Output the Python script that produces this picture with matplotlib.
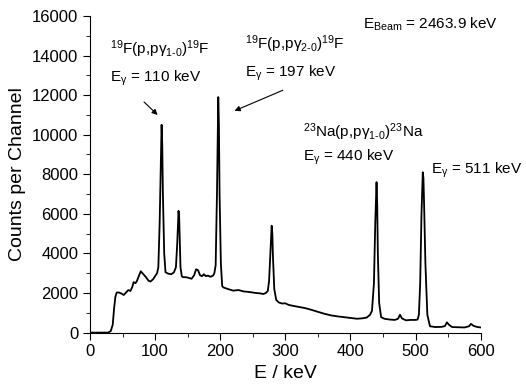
import matplotlib.pyplot as plt
from matplotlib.ticker import MultipleLocator

plt.rcParams['font.family'] = ['Liberation Sans', 'DejaVu Sans']
plt.rcParams['mathtext.fontset'] = 'custom'
plt.rcParams['mathtext.rm'] = 'Liberation Sans'
plt.rcParams['mathtext.it'] = 'Liberation Sans'
plt.rcParams['mathtext.bf'] = 'Liberation Sans:bold'

# spectrum (E in keV, counts per channel)
energy = [0, 28, 32, 35, 37, 39, 41, 44, 48, 52, 56, 59, 62, 65, 67, 70, 72, 75, 78,
          82, 86, 90, 93, 97, 100, 103, 105, 107, 109, 110, 111, 112, 114, 116, 120,
          125, 129, 132, 134, 136, 137, 138, 139, 141, 143, 147, 150, 156, 160, 163,
          166, 169, 172, 175, 178, 181, 185, 189, 191, 193, 195, 197, 198, 199, 201,
          203, 205, 212, 220, 228, 236, 245, 255, 262, 266, 270, 273, 275, 277, 279,
          280, 281, 283, 286, 290, 295, 300, 305, 312, 320, 330, 340, 350, 360, 370,
          380, 390, 400, 410, 418, 425, 430, 433, 436, 438, 440, 441, 442, 444, 447,
          452, 460, 468, 473, 476, 479, 485, 492, 500, 503, 505, 507, 509, 511, 512,
          513, 515, 518, 522, 530, 540, 545, 548, 551, 556, 565, 575, 582, 585, 589,
          595, 600]
counts = [0, 0, 80, 400, 1200, 1800, 2020, 2030, 1980, 1900, 2050, 2150, 2100, 2300, 2550,
          2500, 2600, 2850, 3100, 2950, 2800, 2620, 2580, 2700, 2850, 3000, 3300, 5500, 9000,
          10500, 9500, 7000, 4000, 3050, 2980, 2950, 3050, 3300, 4500, 6150, 5800, 4500, 3300,
          2850, 2800, 2800, 2780, 2720, 2900, 3200, 3150, 2900, 2850, 2950, 2850, 2880, 2820,
          2880, 3000, 3400, 7000, 11900, 10500, 7000, 3500, 2350, 2280, 2200, 2120, 2150, 2080,
          2050, 2000, 1980, 1950, 2000, 2100, 2600, 4000, 5400, 5000, 3800, 2200, 1650, 1520,
          1470, 1480, 1400, 1350, 1300, 1240, 1150, 1050, 950, 870, 820, 780, 740, 700, 720,
          760, 900, 1100, 2500, 5500, 7600, 6500, 4000, 1500, 780, 700, 660, 640, 700, 900,
          720, 620, 640, 640, 660, 900, 2500, 6000, 8100, 7800, 6500, 3500, 900, 320, 280,
          290, 330, 520, 400, 280, 270, 260, 320, 440, 340, 280, 260]

fig = plt.figure(figsize=(5.26, 3.89), dpi=100)
ax = fig.add_axes([0.171, 0.145, 0.743, 0.814])
ax.plot(energy, counts, color='black', lw=1.3)

ax.set_xlim(0, 600)
ax.set_ylim(0, 16000)
ax.xaxis.set_major_locator(MultipleLocator(100))
ax.xaxis.set_minor_locator(MultipleLocator(50))
ax.yaxis.set_major_locator(MultipleLocator(2000))
ax.yaxis.set_minor_locator(MultipleLocator(1000))
ax.spines['top'].set_visible(False)
ax.spines['right'].set_visible(False)
ax.tick_params(which='major', direction='out', length=5, labelsize=12)
ax.tick_params(which='minor', direction='out', length=3)
ax.set_xlabel('E / keV', fontsize=14)
ax.set_ylabel('Counts per Channel', fontsize=14)

fs = 11
ax.text(31, 14300, r'$^{19}$F(p,p$\gamma_{1\text{-}0}$)$^{19}$F', fontsize=fs, va='center')
ax.text(31, 12850, r'E$_\gamma$ = 110 keV', fontsize=fs, va='center')
ax.text(238, 14550, r'$^{19}$F(p,p$\gamma_{2\text{-}0}$)$^{19}$F', fontsize=fs, va='center')
ax.text(238, 13100, r'E$_\gamma$ = 197 keV', fontsize=fs, va='center')
ax.text(327, 10150, r'$^{23}$Na(p,p$\gamma_{1\text{-}0}$)$^{23}$Na', fontsize=fs, va='center')
ax.text(327, 8850, r'E$_\gamma$ = 440 keV', fontsize=fs, va='center')
ax.text(524, 8200, r'E$_\gamma$ = 511 keV', fontsize=fs, va='center')
ax.text(419, 15600, r'E$_{\mathrm{Beam}}$ = 2463.9 keV', fontsize=fs, va='center')

ax.annotate('', xy=(107, 10900), xytext=(80, 11750),
            arrowprops=dict(arrowstyle='-|>', color='black', lw=0.8, mutation_scale=8))
ax.annotate('', xy=(218, 11150), xytext=(300, 12300),
            arrowprops=dict(arrowstyle='-|>', color='black', lw=0.8, mutation_scale=8))

plt.savefig('out.png', dpi=100)
